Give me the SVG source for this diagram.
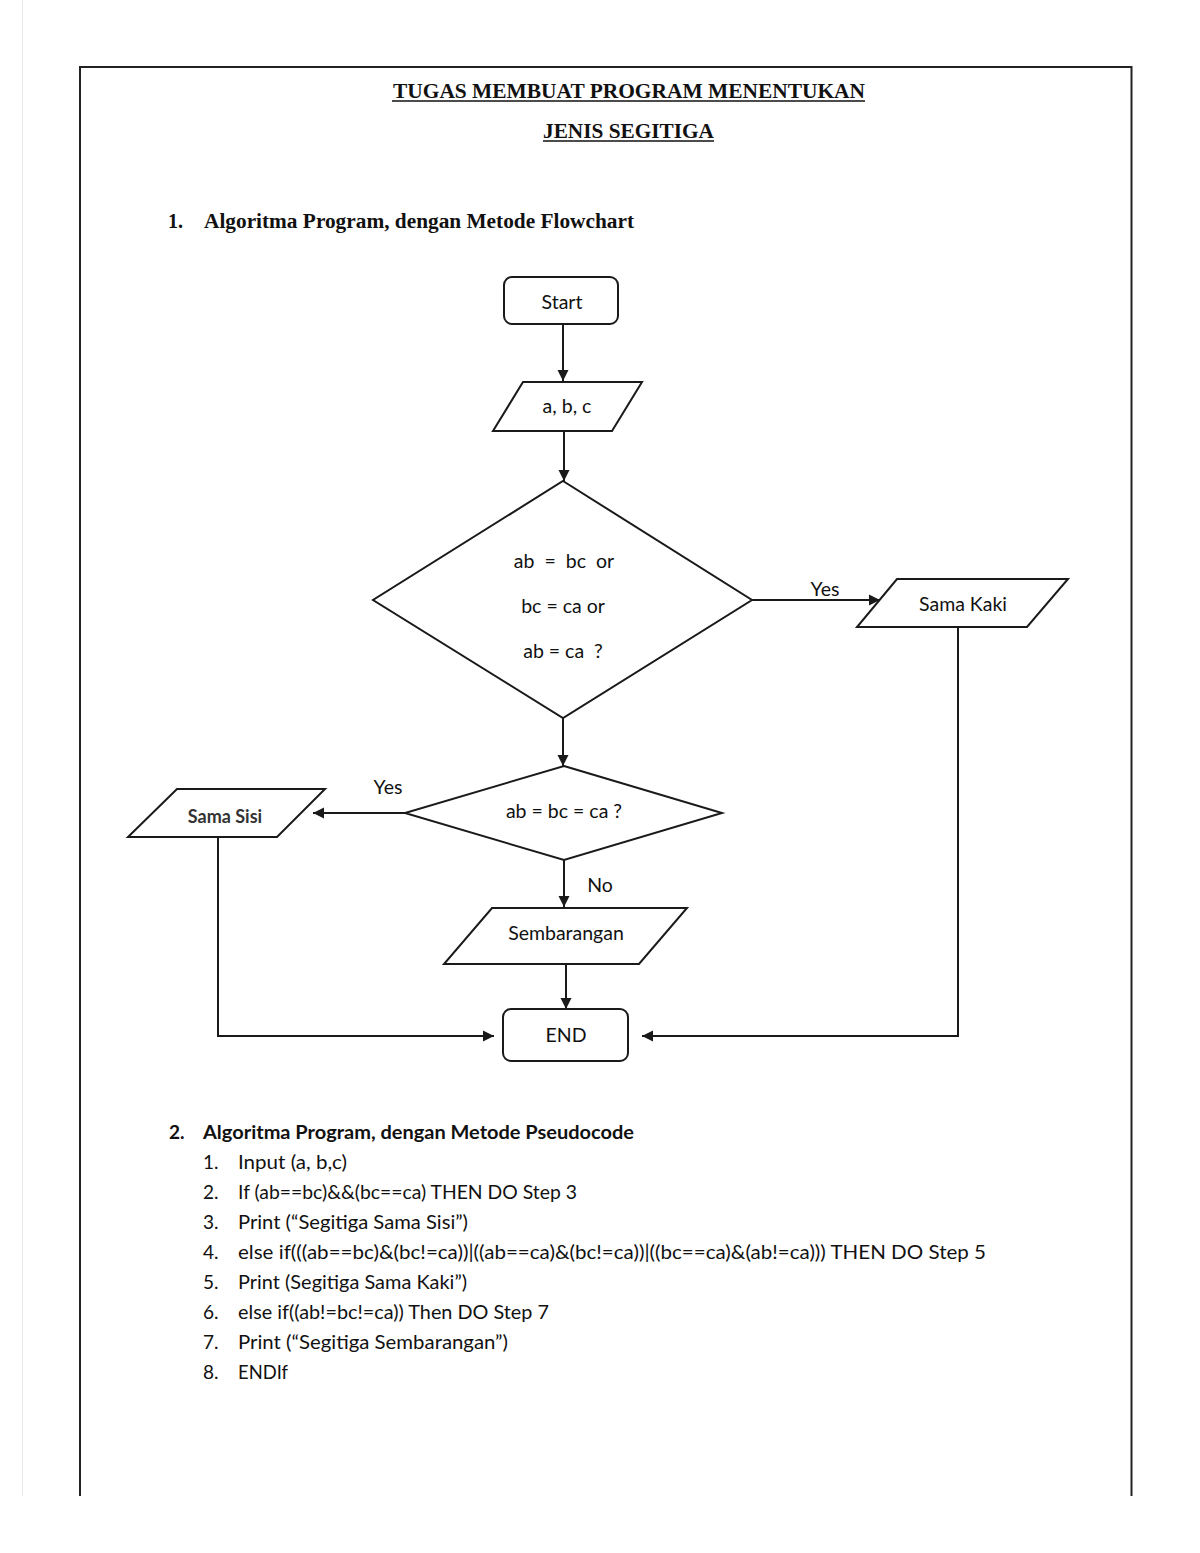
<svg xmlns="http://www.w3.org/2000/svg" width="1200" height="1553" viewBox="0 0 1200 1553">
<style>
.ln{fill:none;stroke:#1a1a1a;stroke-width:2}
.shp{fill:#fff;stroke:#1a1a1a;stroke-width:2}
.ft{font-family:Lato,"Open Sans","Liberation Sans",sans-serif;font-size:19.5px;fill:#111;text-anchor:middle;dominant-baseline:central}
.ttl{font-family:"Liberation Serif","Times New Roman",serif;font-weight:bold;font-size:20px;fill:#111}
.pc{font-family:Lato,"Open Sans","Liberation Sans",sans-serif;font-size:19px;fill:#111}
</style>
<defs>
<marker id="ah" markerUnits="userSpaceOnUse" markerWidth="12" markerHeight="12" refX="11" refY="6" orient="auto">
<path d="M0,0.5 L11,6 L0,11.5 z" fill="#1a1a1a"/>
</marker>
</defs>
<rect width="1200" height="1553" fill="#fff"/>
<g id="page">
<line x1="22.5" y1="0" x2="22.5" y2="1496" stroke="#e6e6e6" stroke-width="1"/>
<path d="M80,1496 V67 H1131.5 V1496" fill="none" stroke="#222" stroke-width="2"/>
</g>
<g id="titles">
<text class="ttl" x="629" y="98" text-anchor="middle" textLength="472" lengthAdjust="spacingAndGlyphs">TUGAS MEMBUAT PROGRAM MENENTUKAN</text>
<line x1="392" y1="101" x2="865" y2="101" stroke="#111" stroke-width="1.5"/>
<text class="ttl" x="628.5" y="138" text-anchor="middle" textLength="171" lengthAdjust="spacingAndGlyphs">JENIS SEGITIGA</text>
<line x1="543" y1="141" x2="714" y2="141" stroke="#111" stroke-width="1.5"/>
<text class="ttl" x="168" y="228">1.</text>
<text class="ttl" x="204" y="228" textLength="430" lengthAdjust="spacingAndGlyphs">Algoritma Program, dengan Metode Flowchart</text>
</g>
<g id="connectors">
<line class="ln" x1="563" y1="325" x2="563" y2="381" marker-end="url(#ah)"/>
<line class="ln" x1="564" y1="431" x2="564" y2="481" marker-end="url(#ah)"/>
<line class="ln" x1="752" y1="600" x2="880" y2="600" marker-end="url(#ah)"/>
<line class="ln" x1="563" y1="718" x2="563" y2="766" marker-end="url(#ah)"/>
<line class="ln" x1="405" y1="813" x2="313" y2="813" marker-end="url(#ah)"/>
<line class="ln" x1="564" y1="860" x2="564" y2="907" marker-end="url(#ah)"/>
<line class="ln" x1="566" y1="964" x2="566" y2="1009" marker-end="url(#ah)"/>
<polyline class="ln" points="218,837 218,1036 494,1036" marker-end="url(#ah)"/>
<polyline class="ln" points="958,627 958,1036 642,1036" marker-end="url(#ah)"/>
<text class="ft" x="825" y="588">Yes</text>
<text class="ft" x="388" y="786">Yes</text>
<text class="ft" x="600" y="884">No</text>
</g>
<g id="start">
<rect class="shp" x="504" y="277" width="114" height="47" rx="8"/>
<text class="ft" x="562" y="301">Start</text>
</g>
<g id="input">
<polygon class="shp" points="523,382 642,382 612,431 493,431"/>
<text class="ft" x="567" y="405">a, b, c</text>
</g>
<g id="decision1">
<polygon class="shp" points="563,481 752,600 563,718 373,600"/>
<text class="ft" x="564" y="560" xml:space="preserve">ab  =  bc  or</text>
<text class="ft" x="563" y="605">bc = ca or</text>
<text class="ft" x="563" y="650" xml:space="preserve">ab = ca  ?</text>
</g>
<g id="samakaki">
<polygon class="shp" points="897,579 1068,579 1027,627 857,627"/>
<text class="ft" x="963" y="603">Sama Kaki</text>
</g>
<g id="decision2">
<polygon class="shp" points="564,766 722,813 564,860 405,813"/>
<text class="ft" x="564" y="810">ab = bc = ca ?</text>
</g>
<g id="samasisi">
<polygon class="shp" points="177,789 325,789 277,837 128,837"/>
<text class="ft" x="225" y="816" style="font-weight:bold;fill:#333;font-size:18px">Sama Sisi</text>
</g>
<g id="sembarangan">
<polygon class="shp" points="492,908 687,908 639,964 444,964"/>
<text class="ft" x="566" y="932">Sembarangan</text>
</g>
<g id="end">
<rect class="shp" x="503" y="1009" width="125" height="52" rx="8"/>
<text class="ft" x="566" y="1034">END</text>
</g>
<g id="pseudocode">
<text class="pc" x="169" y="1139" font-weight="bold">2.</text>
<text class="pc" x="203" y="1139" font-weight="bold" textLength="431" lengthAdjust="spacingAndGlyphs">Algoritma Program, dengan Metode Pseudocode</text>
<text class="pc" x="203" y="1169">1.</text>
<text class="pc" x="238" y="1169" textLength="109" lengthAdjust="spacingAndGlyphs">Input (a, b,c)</text>
<text class="pc" x="203" y="1199">2.</text>
<text class="pc" x="238" y="1199" textLength="339" lengthAdjust="spacingAndGlyphs">If (ab==bc)&amp;&amp;(bc==ca) THEN DO Step 3</text>
<text class="pc" x="203" y="1229">3.</text>
<text class="pc" x="238" y="1229" textLength="230" lengthAdjust="spacingAndGlyphs">Print (“Segitiga Sama Sisi”)</text>
<text class="pc" x="203" y="1259">4.</text>
<text class="pc" x="238" y="1259" textLength="748" lengthAdjust="spacingAndGlyphs">else if(((ab==bc)&amp;(bc!=ca))|((ab==ca)&amp;(bc!=ca))|((bc==ca)&amp;(ab!=ca))) THEN DO Step 5</text>
<text class="pc" x="203" y="1289">5.</text>
<text class="pc" x="238" y="1289" textLength="229" lengthAdjust="spacingAndGlyphs">Print (Segitiga Sama Kaki”)</text>
<text class="pc" x="203" y="1319">6.</text>
<text class="pc" x="238" y="1319" textLength="311" lengthAdjust="spacingAndGlyphs">else if((ab!=bc!=ca)) Then DO Step 7</text>
<text class="pc" x="203" y="1349">7.</text>
<text class="pc" x="238" y="1349" textLength="270" lengthAdjust="spacingAndGlyphs">Print (“Segitiga Sembarangan”)</text>
<text class="pc" x="203" y="1379">8.</text>
<text class="pc" x="238" y="1379" textLength="50" lengthAdjust="spacingAndGlyphs">ENDIf</text>
</g>
</svg>
